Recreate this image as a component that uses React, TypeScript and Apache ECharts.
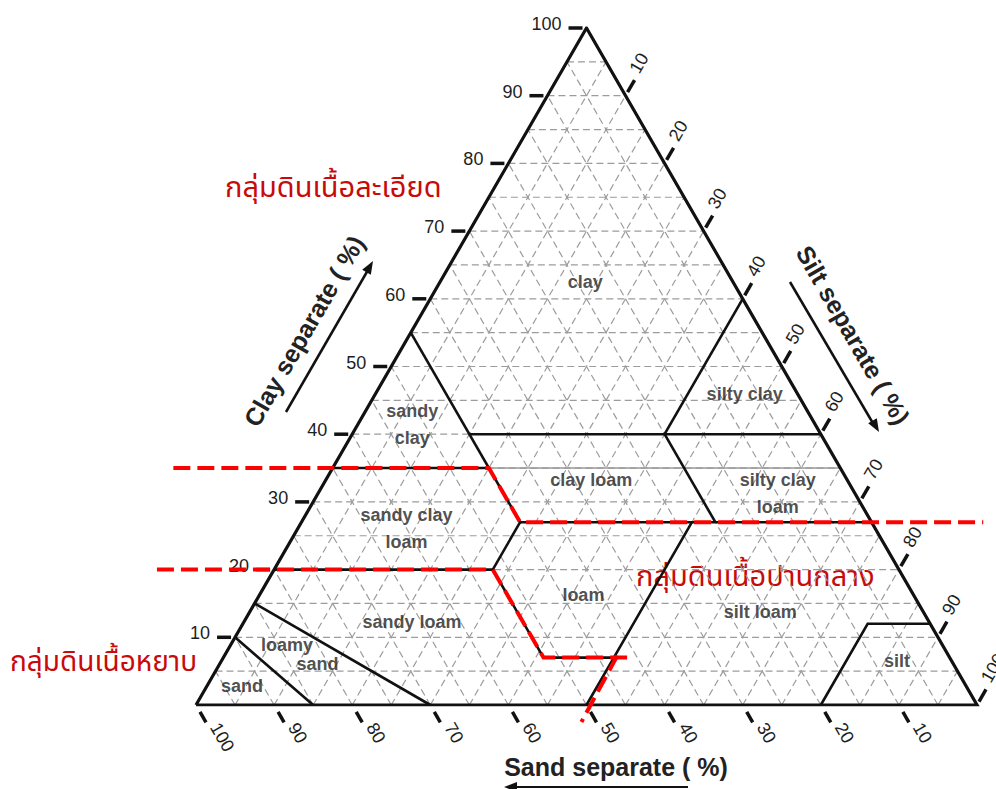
import React, { useEffect, useRef } from "react";
import * as echarts from "echarts";

// ---- data (ternary: sand %, clay %; silt = 100 - sand - clay) ----
const gridSteps = [5, 10, 15, 20, 25, 30, 35, 40, 45, 50, 55, 60, 65, 70, 75, 80, 85, 90, 95];
const clayTicks = [10, 20, 30, 40, 50, 60, 70, 80, 90, 100];
const siltTicks = [10, 20, 30, 40, 50, 60, 70, 80, 90, 100];
const sandTicks = [100, 90, 80, 70, 60, 50, 40, 30, 20, 10];

// texture class boundaries, vertices as [sand, clay]
const boundaryLines: number[][][] = [
  [[85, 0], [90, 10]],
  [[70, 0], [85, 15]],
  [[80, 20], [52, 20], [52, 7], [43, 7]],
  [[50, 0], [43, 7], [23, 27]],
  [[52, 20], [45, 27]],
  [[45, 27], [0, 27]],
  [[65, 35], [45, 35]],
  [[45, 27], [45, 55]],
  [[45, 40], [0, 40]],
  [[20, 27], [20, 40]],
  [[20, 40], [0, 60]],
  [[20, 0], [8, 12], [0, 12]],
];
const faintLines: number[][][] = [[[45, 35], [0, 35]]];
const triangle: number[][] = [[100, 0], [0, 0], [0, 100], [100, 0]];

const classNames = [
  "clay", "silty clay", "sandy\nclay", "clay loam", "silty clay\nloam", "sandy clay\nloam",
  "loam", "silt loam", "sandy loam", "loamy", "sand", "sand", "silt",
];
const classSand = [18.9, 6.8, 51.6, 32.8, 9.9, 60, 42.3, 20.9, 66.2, 83.9, 81.4, 92.7, 7];
const classClay = [62.5, 45.9, 41.4, 33.2, 31.2, 26.1, 16.2, 13.7, 12.3, 8.9, 6.1, 2.8, 6.5];

// red annotation lines, [sand, clay]
const fineGroupLine = [[85.4, 35], [45, 35], [45, 27], [-14.3, 27]];
const coarseGroupLine = [[95, 20], [52, 20], [52, 7], [41.2, 7]];
const coarseGroupTail = [[42.4, 7.3], [51.9, -2.5]];

const groupNames = ["กลุ่มดินเนื้อละเอียด", "กลุ่มดินเนื้อปานกลาง", "กลุ่มดินเนื้อหยาบ"];
const axisTitles = ["Clay separate ( %)", "Silt separate ( %)", "Sand separate ( %)"];

// ---- helpers ----
const toXY = (sand: number, clay: number) => [100 - sand - clay / 2, clay];
const FONT = "'Liberation Sans', Arial, Helvetica, sans-serif";
const THAI = "'Noto Sans Thai', 'Noto Sans Thai UI', Garuda, Loma, 'Norasi', Tahoma, 'Noto Sans', sans-serif";

const gridCoords: number[][][] = [];
gridSteps.forEach((k) => {
  gridCoords.push([toXY(100 - k, k), toXY(0, k)]); // clay k
  gridCoords.push([toXY(k, 0), toXY(k, 100 - k)]); // sand k
  gridCoords.push([toXY(100 - k, 0), toXY(0, 100 - k)]); // silt k
});

const S3 = Math.sqrt(3) / 2;

function tickSeries(
  data: number[][],
  dir: number[],
  t0: number,
  t1: number,
  along: number,
  up: number[],
  upDist: number,
  rotation: number,
  align: string
) {
  return {
    type: "custom",
    coordinateSystem: "cartesian2d",
    clip: false,
    silent: true,
    z: 6,
    data,
    renderItem: (_params: any, api: any) => {
      const p = api.coord([api.value(0), api.value(1)]);
      const v = api.value(2);
      return {
        type: "group",
        children: [
          {
            type: "line",
            shape: {
              x1: p[0] + dir[0] * t0,
              y1: p[1] + dir[1] * t0,
              x2: p[0] + dir[0] * t1,
              y2: p[1] + dir[1] * t1,
            },
            style: { stroke: "#111", lineWidth: 3.5 },
          },
          {
            type: "text",
            x: p[0] + dir[0] * along + up[0] * upDist,
            y: p[1] + dir[1] * along + up[1] * upDist,
            rotation,
            style: {
              text: String(v),
              fill: "#1e1e1e",
              font: `18px ${FONT}`,
              align,
              verticalAlign: "middle",
            },
          },
        ],
      };
    },
  };
}

function arrowHead(tip: number[], dir: number[], len: number, half: number) {
  const bx = tip[0] - dir[0] * len;
  const by = tip[1] - dir[1] * len;
  const px = -dir[1];
  const py = dir[0];
  return {
    type: "polygon",
    shape: { points: [tip, [bx + px * half, by + py * half], [bx - px * half, by - py * half]] },
    style: { fill: "#111" },
  };
}

export default function App() {
  const ref = useRef<HTMLDivElement>(null);
  useEffect(() => {
    if (!ref.current) return;
    const chart = echarts.init(ref.current, undefined, { renderer: "svg" });
    const option: any = {
      animation: false,
      backgroundColor: "#fff",
      grid: { left: 196, top: 28, width: 781, height: 677 },
      xAxis: { type: "value", min: 0, max: 100, show: false },
      yAxis: { type: "value", min: 0, max: 100, show: false },
      series: [
        {
          type: "lines",
          coordinateSystem: "cartesian2d",
          polyline: true,
          silent: true,
          z: 1,
          lineStyle: { color: "#9c9c9c", width: 1.2, type: [7, 4], opacity: 1 },
          data: gridCoords.map((c) => ({ coords: c })),
        },
        {
          type: "lines",
          coordinateSystem: "cartesian2d",
          polyline: true,
          silent: true,
          z: 2,
          lineStyle: { color: "#999", width: 1.6, opacity: 1 },
          data: faintLines.map((l) => ({ coords: l.map((p) => toXY(p[0], p[1])) })),
        },
        {
          type: "lines",
          coordinateSystem: "cartesian2d",
          polyline: true,
          silent: true,
          z: 3,
          lineStyle: { color: "#111", width: 2.6, opacity: 1 },
          data: boundaryLines.map((l) => ({ coords: l.map((p) => toXY(p[0], p[1])) })),
        },
        {
          type: "lines",
          coordinateSystem: "cartesian2d",
          polyline: true,
          silent: true,
          z: 3,
          lineStyle: { color: "#111", width: 3.2, opacity: 1, join: "miter" },
          data: [{ coords: triangle.map((p) => toXY(p[0], p[1])) }],
        },
        {
          type: "scatter",
          symbolSize: 1,
          silent: true,
          z: 4,
          itemStyle: { color: "rgba(0,0,0,0)" },
          label: {
            show: true,
            position: "inside",
            formatter: "{b}",
            color: "#222",
            fontFamily: FONT,
            fontSize: 18,
            fontWeight: "bold",
            lineHeight: 27,
            align: "center",
          },
          data: classNames.map((n, i) => ({ name: n, value: toXY(classSand[i], classClay[i]) })),
        },
        {
          type: "lines",
          coordinateSystem: "cartesian2d",
          polyline: true,
          silent: true,
          clip: false,
          z: 7,
          lineStyle: { color: "#ff0000", width: 4, type: [17, 7], opacity: 1 },
          data: [fineGroupLine, coarseGroupLine, coarseGroupTail].map((l) => ({
            coords: l.map((p) => toXY(p[0], p[1])),
          })),
        },
        tickSeries(
          clayTicks.map((v) => [...toXY(100 - v, v), v]),
          [-1, 0], 4, 18, 25, [0, -1], 4, 0, "right"
        ),
        tickSeries(
          siltTicks.map((v) => [...toXY(0, 100 - v), v]),
          [0.5, -S3], 4, 18, 25, [-S3, -0.5], 4.5, Math.PI / 3, "left"
        ),
        tickSeries(
          sandTicks.map((v) => [...toXY(v, 0), v]),
          [0.5, S3], 8, 20, 26, [S3, -0.5], 6.5, -Math.PI / 3, "left"
        ),
      ],
      graphic: [
        {
          type: "text",
          x: 304,
          y: 331,
          rotation: Math.PI / 3,
          style: { text: axisTitles[0], font: `bold 25px ${FONT}`, fill: "#222", align: "center", verticalAlign: "middle" },
        },
        { type: "line", shape: { x1: 286, y1: 412, x2: 368, y2: 270 }, style: { stroke: "#111", lineWidth: 2.5 } },
        arrowHead([373, 261], [0.5, -S3], 13, 5),
        {
          type: "text",
          x: 853,
          y: 335,
          rotation: -Math.PI / 3,
          style: { text: axisTitles[1], font: `bold 25px ${FONT}`, fill: "#222", align: "center", verticalAlign: "middle" },
        },
        { type: "line", shape: { x1: 790, y1: 282, x2: 874, y2: 425 }, style: { stroke: "#111", lineWidth: 2.5 } },
        arrowHead([879, 432], [0.5, S3], 13, 5),
        {
          type: "text",
          x: 616,
          y: 767,
          style: { text: axisTitles[2], font: `bold 25px ${FONT}`, fill: "#222", align: "center", verticalAlign: "middle" },
        },
        { type: "line", shape: { x1: 515, y1: 787, x2: 688, y2: 787 }, style: { stroke: "#111", lineWidth: 2 } },
        arrowHead([504, 787], [-1, 0], 13, 5),
        {
          type: "text",
          x: 225,
          y: 188,
          style: { text: groupNames[0], font: `29px ${THAI}`, fill: "#c80a0a", align: "left", verticalAlign: "middle" },
        },
        {
          type: "text",
          x: 636,
          y: 577,
          style: { text: groupNames[1], font: `29px ${THAI}`, fill: "#c80a0a", align: "left", verticalAlign: "middle" },
        },
        {
          type: "text",
          x: 10,
          y: 662,
          style: { text: groupNames[2], font: `28px ${THAI}`, fill: "#c80a0a", align: "left", verticalAlign: "middle" },
        },
      ],
    };
    chart.setOption(option);
    return () => chart.dispose();
  }, []);
  return (
    <div
      ref={ref}
      style={{ position: "absolute", left: 0, top: 0, width: 996, height: 789, background: "#fff" }}
    />
  );
}
